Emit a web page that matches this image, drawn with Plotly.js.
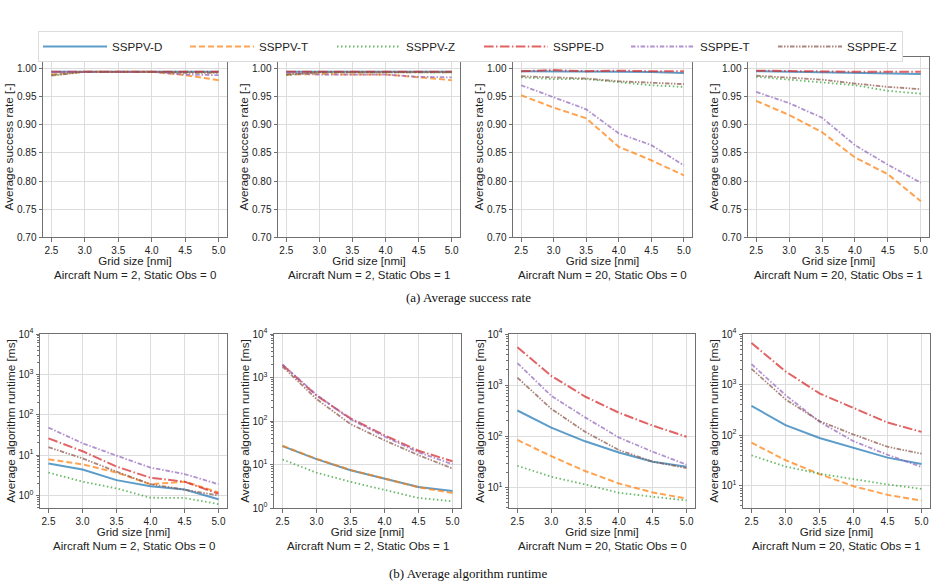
<!DOCTYPE html>
<html><head><meta charset="utf-8">
<script src="https://cdn.plot.ly/plotly-3.0.1.min.js"></script>
<style>html,body{margin:0;padding:0;background:#fff}#chart{width:937px;height:586px}</style>
</head><body><div id="chart"></div>
<script>
// ---------- data ----------
const gridSize = [2.5, 3.0, 3.5, 4.0, 4.5, 5.0];
const seriesNames = ['SSPPV-D', 'SSPPV-T', 'SSPPV-Z', 'SSPPE-D', 'SSPPE-T', 'SSPPE-Z'];
const panelCaptions = ['Aircraft Num = 2, Static Obs = 0', 'Aircraft Num = 2, Static Obs = 1',
                       'Aircraft Num = 20, Static Obs = 0', 'Aircraft Num = 20, Static Obs = 1'];
const rateTicks = [0.70, 0.75, 0.80, 0.85, 0.90, 0.95, 1.00];
const runtimeTickVals = [1, 10, 100, 1000, 10000];
const runtimeTickText = ['10<sup>0</sup>', '10<sup>1</sup>', '10<sup>2</sup>', '10<sup>3</sup>', '10<sup>4</sup>'];

// Average success rate [-]
// Aircraft Num = 2, Static Obs = 0
const rate_n2_o0_SSPPV_D = [0.995, 0.995, 0.995, 0.995, 0.995, 0.995];
const rate_n2_o0_SSPPV_T = [0.990, 0.995, 0.995, 0.995, 0.989, 0.980];
const rate_n2_o0_SSPPV_Z = [0.989, 0.995, 0.995, 0.995, 0.994, 0.994];
const rate_n2_o0_SSPPE_D = [0.995, 0.995, 0.995, 0.995, 0.995, 0.995];
const rate_n2_o0_SSPPE_T = [0.994, 0.995, 0.995, 0.995, 0.990, 0.989];
const rate_n2_o0_SSPPE_Z = [0.988, 0.995, 0.995, 0.995, 0.993, 0.993];
// Aircraft Num = 2, Static Obs = 1
const rate_n2_o1_SSPPV_D = [0.995, 0.995, 0.995, 0.995, 0.995, 0.995];
const rate_n2_o1_SSPPV_T = [0.990, 0.991, 0.990, 0.990, 0.985, 0.980];
const rate_n2_o1_SSPPV_Z = [0.989, 0.994, 0.994, 0.994, 0.994, 0.994];
const rate_n2_o1_SSPPE_D = [0.995, 0.995, 0.995, 0.995, 0.995, 0.995];
const rate_n2_o1_SSPPE_T = [0.993, 0.990, 0.990, 0.990, 0.986, 0.985];
const rate_n2_o1_SSPPE_Z = [0.990, 0.994, 0.994, 0.994, 0.994, 0.994];
// Aircraft Num = 20, Static Obs = 0
const rate_n20_o0_SSPPV_D = [0.996, 0.996, 0.996, 0.995, 0.9945, 0.993];
const rate_n20_o0_SSPPV_T = [0.953, 0.931, 0.912, 0.861, 0.837, 0.810];
const rate_n20_o0_SSPPV_Z = [0.985, 0.982, 0.982, 0.976, 0.971, 0.968];
const rate_n20_o0_SSPPE_D = [0.996, 0.998, 0.996, 0.997, 0.996, 0.996];
const rate_n20_o0_SSPPE_T = [0.971, 0.949, 0.928, 0.885, 0.864, 0.828];
const rate_n20_o0_SSPPE_Z = [0.987, 0.985, 0.983, 0.978, 0.976, 0.973];
// Aircraft Num = 20, Static Obs = 1
const rate_n20_o1_SSPPV_D = [0.996, 0.995, 0.994, 0.993, 0.992, 0.991];
const rate_n20_o1_SSPPV_T = [0.943, 0.918, 0.887, 0.842, 0.812, 0.764];
const rate_n20_o1_SSPPV_Z = [0.986, 0.981, 0.977, 0.971, 0.961, 0.956];
const rate_n20_o1_SSPPE_D = [0.997, 0.996, 0.995, 0.995, 0.995, 0.995];
const rate_n20_o1_SSPPE_T = [0.959, 0.939, 0.913, 0.864, 0.829, 0.797];
const rate_n20_o1_SSPPE_Z = [0.988, 0.985, 0.981, 0.974, 0.968, 0.964];

// Average algorithm runtime [ms]
// Aircraft Num = 2, Static Obs = 0
const time_n2_o0_SSPPV_D = [6.2, 4.4, 2.4, 1.7, 1.4, 0.81];
const time_n2_o0_SSPPV_T = [7.9, 5.9, 3.7, 1.9, 2.2, 1.2];
const time_n2_o0_SSPPV_Z = [3.7, 2.2, 1.5, 0.88, 0.87, 0.61];
const time_n2_o0_SSPPE_D = [26, 12.5, 5.2, 2.75, 2.2, 1.1];
const time_n2_o0_SSPPE_T = [48, 19.7, 9.7, 4.9, 3.4, 1.9];
const time_n2_o0_SSPPE_Z = [15.7, 8.3, 3.9, 1.9, 1.4, 1.0];
// Aircraft Num = 2, Static Obs = 1
const time_n2_o1_SSPPV_D = [26.5, 13.3, 7.4, 4.76, 3.05, 2.47];
const time_n2_o1_SSPPV_T = [27, 13.5, 7.5, 4.8, 3.0, 2.2];
const time_n2_o1_SSPPV_Z = [13, 6.5, 4.0, 2.6, 1.7, 1.43];
const time_n2_o1_SSPPE_D = [1950, 385, 115, 47, 20.7, 11.9];
const time_n2_o1_SSPPE_T = [2000, 400, 110, 44, 19, 10.2];
const time_n2_o1_SSPPE_Z = [1790, 320, 85, 36, 16.4, 8.1];
// Aircraft Num = 20, Static Obs = 0
const time_n20_o0_SSPPV_D = [320, 148, 80, 48.5, 32, 25.4];
const time_n20_o0_SSPPV_T = [85, 41, 21, 12, 8, 6.1];
const time_n20_o0_SSPPV_Z = [26.6, 16.2, 11.5, 7.9, 6.6, 5.6];
const time_n20_o0_SSPPE_D = [5500, 1515, 600, 290, 162, 98];
const time_n20_o0_SSPPE_T = [2700, 620, 235, 95, 50, 28];
const time_n20_o0_SSPPE_Z = [1400, 345, 123, 54, 32, 24];
// Aircraft Num = 20, Static Obs = 1
const time_n20_o1_SSPPV_D = [380, 158, 88, 56, 36, 27];
const time_n20_o1_SSPPV_T = [71, 32, 17, 9.8, 6.6, 5.1];
const time_n20_o1_SSPPV_Z = [40, 24, 17.3, 13.4, 10.6, 8.7];
const time_n20_o1_SSPPE_D = [6650, 1820, 670, 340, 178, 116];
const time_n20_o1_SSPPE_T = [2530, 620, 184, 76, 41, 23.5];
const time_n20_o1_SSPPE_Z = [2040, 510, 190, 103, 59, 43];

// ---------- assembly ----------
const ratePanels = [
  [rate_n2_o0_SSPPV_D, rate_n2_o0_SSPPV_T, rate_n2_o0_SSPPV_Z, rate_n2_o0_SSPPE_D, rate_n2_o0_SSPPE_T, rate_n2_o0_SSPPE_Z],
  [rate_n2_o1_SSPPV_D, rate_n2_o1_SSPPV_T, rate_n2_o1_SSPPV_Z, rate_n2_o1_SSPPE_D, rate_n2_o1_SSPPE_T, rate_n2_o1_SSPPE_Z],
  [rate_n20_o0_SSPPV_D, rate_n20_o0_SSPPV_T, rate_n20_o0_SSPPV_Z, rate_n20_o0_SSPPE_D, rate_n20_o0_SSPPE_T, rate_n20_o0_SSPPE_Z],
  [rate_n20_o1_SSPPV_D, rate_n20_o1_SSPPV_T, rate_n20_o1_SSPPV_Z, rate_n20_o1_SSPPE_D, rate_n20_o1_SSPPE_T, rate_n20_o1_SSPPE_Z]
];
const timePanels = [
  [time_n2_o0_SSPPV_D, time_n2_o0_SSPPV_T, time_n2_o0_SSPPV_Z, time_n2_o0_SSPPE_D, time_n2_o0_SSPPE_T, time_n2_o0_SSPPE_Z],
  [time_n2_o1_SSPPV_D, time_n2_o1_SSPPV_T, time_n2_o1_SSPPV_Z, time_n2_o1_SSPPE_D, time_n2_o1_SSPPE_T, time_n2_o1_SSPPE_Z],
  [time_n20_o0_SSPPV_D, time_n20_o0_SSPPV_T, time_n20_o0_SSPPV_Z, time_n20_o0_SSPPE_D, time_n20_o0_SSPPE_T, time_n20_o0_SSPPE_Z],
  [time_n20_o1_SSPPV_D, time_n20_o1_SSPPV_T, time_n20_o1_SSPPV_Z, time_n20_o1_SSPPE_D, time_n20_o1_SSPPE_T, time_n20_o1_SSPPE_Z]
];

const colors = ['#1f77b4', '#ff7f0e', '#2ca02c', '#d62728', '#9467bd', '#8c564b'];
const dashes = ['solid', '6px,3px', '1.5px,2.5px', '9.6px,2.4px,1.5px,2.4px', '4.5px,1.8px,1.5px,1.8px', '4.5px,1.5px,1.5px,1.5px,1.5px,1.5px'];
const widths = [2, 2, 1.8, 2, 1.8, 1.8];

const W = 937, H = 586;
const FONT = 'Liberation Sans, Arial, sans-serif';
const TXT = '#222222';
const FRAME = '#707070';
const GRID = '#dddddd';
const LBL = 11.5;

// pixel frames (left,right) for each panel; rows (top,bottom)
const topX = [[43, 227], [278, 460], [513, 692], [748, 929]];
const botX = [[40, 227], [274, 461], [509, 695], [743, 930]];
const topY = [57, 237];
const botY = [334, 508];
const logRanges = [[-0.31, 4], [0, 4], [0.6, 4], [0.56, 4]];

const px2x = p => p / W;
const px2y = p => 1 - p / H;

const data = [];
const layout = {
  width: W, height: H,
  margin: {l: 0, r: 0, t: 0, b: 0},
  paper_bgcolor: '#ffffff', plot_bgcolor: '#ffffff',
  font: {family: FONT, size: 10, color: TXT},
  showlegend: true,
  legend: {
    orientation: 'h', x: px2x(38), xanchor: 'left', y: px2y(31), yanchor: 'top',
    bordercolor: '#dcdcdc', borderwidth: 1, bgcolor: '#ffffff',
    font: {family: FONT, size: 11.6, color: TXT},
    itemwidth: 64, entrywidth: 68, entrywidthmode: 'pixels', tracegroupgap: 0
  },
  annotations: [],
  hovermode: false
};

function xAxisDef(px) {
  return {
    domain: [px2x(px[0]), px2x(px[1])],
    range: [2.375, 5.125],
    tickmode: 'array', tickvals: gridSize, tickformat: '.1f',
    ticks: 'outside', ticklen: 3.5, tickcolor: FRAME, tickwidth: 1,
    showline: true, linecolor: FRAME, linewidth: 1, mirror: true,
    showgrid: true, gridcolor: GRID, gridwidth: 1, zeroline: false,
    tickfont: {family: FONT, size: 10, color: TXT},
    title: {text: 'Grid size [nmi]', font: {family: FONT, size: LBL, color: TXT}, standoff: 0},
    fixedrange: true
  };
}

for (let p = 0; p < 4; p++) {
  const iT = p + 1;
  const iB = p + 5;
  const xa = 'x' + iT, ya = 'y' + iT;
  const xb = 'x' + iB, yb = 'y' + iB;
  layout['xaxis' + iT] = Object.assign(xAxisDef(topX[p]), {anchor: ya});
  layout['yaxis' + iT] = {
    domain: [px2y(topY[1]), px2y(topY[0])], anchor: xa,
    range: [0.70, 1.0214],
    tickmode: 'array', tickvals: rateTicks, tickformat: '.2f',
    ticks: 'outside', ticklen: 3.5, tickcolor: FRAME, tickwidth: 1,
    showline: true, linecolor: FRAME, linewidth: 1, mirror: true,
    showgrid: true, gridcolor: GRID, gridwidth: 1, zeroline: false,
    tickfont: {family: FONT, size: 10, color: TXT},
    title: {text: 'Average success rate [-]', font: {family: FONT, size: 11.8, color: TXT}, standoff: 0},
    fixedrange: true
  };
  layout['xaxis' + iB] = Object.assign(xAxisDef(botX[p]), {anchor: yb});
  layout['yaxis' + iB] = {
    domain: [px2y(botY[1]), px2y(botY[0])], anchor: xb,
    type: 'log', range: logRanges[p],
    tickmode: 'array', tickvals: runtimeTickVals, ticktext: runtimeTickText,
    ticks: 'outside', ticklen: 3.5, tickcolor: FRAME, tickwidth: 1,
    minor: {ticks: 'outside', ticklen: 2, tickcolor: FRAME, dtick: 'D1', showgrid: false},
    showline: true, linecolor: FRAME, linewidth: 1, mirror: true,
    showgrid: true, gridcolor: GRID, gridwidth: 1, zeroline: false,
    tickfont: {family: FONT, size: 10, color: TXT},
    title: {text: 'Average algorithm runtime [ms]', font: {family: FONT, size: 11.8, color: TXT}, standoff: 0},
    fixedrange: true
  };

  for (let s = 0; s < 6; s++) {
    const line = {color: colors[s], width: widths[s], dash: dashes[s]};
    const tr = {
      type: 'scatter', mode: 'lines', x: gridSize, y: ratePanels[p][s],
      xaxis: xa, yaxis: ya, name: seriesNames[s], legendgroup: seriesNames[s],
      showlegend: p === 0, line: line, opacity: 0.72
    };
    if (p === 0 && s === 5) tr.legendwidth = 50;
    data.push(tr);
  }
  for (let s = 0; s < 6; s++) {
    const line = {color: colors[s], width: widths[s], dash: dashes[s]};
    data.push({
      type: 'scatter', mode: 'lines', x: gridSize, y: timePanels[p][s],
      xaxis: xb, yaxis: yb, name: seriesNames[s], legendgroup: seriesNames[s],
      showlegend: false, line: line, opacity: 0.72
    });
  }

  // panel captions
  layout.annotations.push({
    xref: 'paper', yref: 'paper', x: px2x((topX[p][0] + topX[p][1]) / 2), y: px2y(275),
    xanchor: 'center', yanchor: 'middle', showarrow: false, text: panelCaptions[p],
    font: {family: FONT, size: LBL, color: TXT}
  });
  layout.annotations.push({
    xref: 'paper', yref: 'paper', x: px2x((botX[p][0] + botX[p][1]) / 2), y: px2y(546),
    xanchor: 'center', yanchor: 'middle', showarrow: false, text: panelCaptions[p],
    font: {family: FONT, size: LBL, color: TXT}
  });
}

// figure captions
layout.annotations.push({
  xref: 'paper', yref: 'paper', x: px2x(468), y: px2y(297), xanchor: 'center', yanchor: 'middle',
  showarrow: false, text: '(a) Average success rate',
  font: {family: 'Liberation Serif, Times New Roman, serif', size: 13, color: '#111'}
});
layout.annotations.push({
  xref: 'paper', yref: 'paper', x: px2x(468), y: px2y(573), xanchor: 'center', yanchor: 'middle',
  showarrow: false, text: '(b) Average algorithm runtime',
  font: {family: 'Liberation Serif, Times New Roman, serif', size: 13, color: '#111'}
});

Plotly.newPlot('chart', data, layout, {displayModeBar: false, staticPlot: true});
</script>
</body></html>
